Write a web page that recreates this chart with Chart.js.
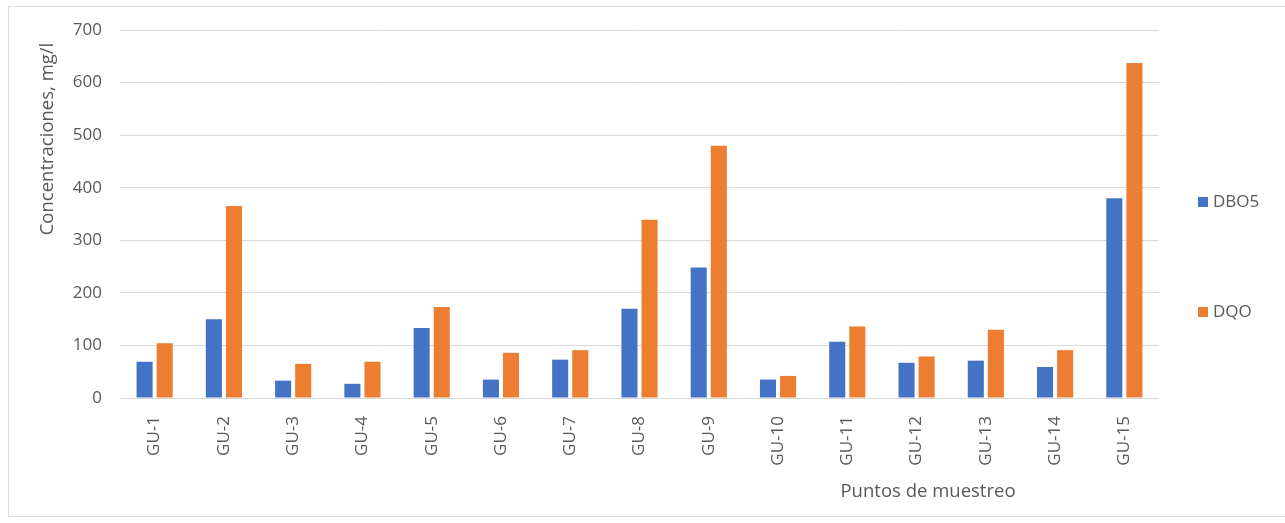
<!DOCTYPE html>
<html>
<head>
<meta charset="utf-8">
<script src="https://cdn.jsdelivr.net/npm/chart.js@4/dist/chart.umd.min.js"></script>
<style>
  html, body { margin:0; padding:0; background:#fff; }
  #frame { position:absolute; left:8px; top:6px; width:1290px; height:511px; border:1px solid #dedede; box-sizing:border-box; }
  #wrap { position:absolute; left:0; top:0; width:1285px; height:523px; }
</style>
</head>
<body>
<div id="frame"></div>
<div id="wrap"><canvas id="chart"></canvas></div>
<script>
const categories = ['GU-1','GU-2','GU-3','GU-4','GU-5','GU-6','GU-7','GU-8','GU-9','GU-10','GU-11','GU-12','GU-13','GU-14','GU-15'];
const dbo5 = [69, 150, 33, 27, 133, 35, 73, 170, 248, 35, 107, 67, 71, 59, 380];
const dqo  = [104, 365, 65, 69, 173, 86, 91, 339, 480, 42, 136, 79, 130, 91, 637];
const yTicks = [0, 100, 200, 300, 400, 500, 600, 700];

const FONT = "'Open Sans', sans-serif";
const TXT = '#595959';

// axis titles + legend placed by hand, like the Excel original
const decor = {
  id:'decor',
  afterDraw(chart){
    const {ctx, chartArea:a} = chart;
    ctx.save();
    ctx.fillStyle = TXT;
    ctx.textBaseline = 'middle';
    ctx.font = `18.5px ${FONT}`;
    // y title
    ctx.save();
    ctx.translate(48, a.top + 109);
    ctx.rotate(-Math.PI/2);
    ctx.textAlign = 'center';
    ctx.fillText('Concentraciones, mg/l', 0, 0);
    ctx.restore();
    // x title
    ctx.textAlign = 'center';
    ctx.fillText('Puntos de muestreo', a.left + 808, 492);
    // legend
    ctx.font = `17px ${FONT}`;
    ctx.textAlign = 'left';
    const ys = [202, 312];
    chart.data.datasets.forEach((ds, i) => {
      ctx.fillStyle = ds.backgroundColor;
      ctx.fillRect(1198, ys[i] - 5, 10, 10);
      ctx.fillStyle = TXT;
      ctx.fillText(ds.label, 1213, ys[i]);
    });
    ctx.restore();
  }
};

new Chart(document.getElementById('chart'), {
  type:'bar',
  data:{
    labels:categories,
    datasets:[
      { label:'DBO5', data:dbo5, backgroundColor:'#4472C4', barPercentage:0.8, categoryPercentage:0.58 },
      { label:'DQO',  data:dqo,  backgroundColor:'#ED7D31', barPercentage:0.8, categoryPercentage:0.58 }
    ]
  },
  options:{
    responsive:true, maintainAspectRatio:false, animation:false,
    layout:{ padding:{ left:0, right:126, top:30, bottom:0 } },
    plugins:{ legend:{display:false}, tooltip:{enabled:false} },
    scales:{
      x:{
        grid:{display:false}, border:{display:false},
        ticks:{ color:TXT, font:{family:FONT, size:17}, minRotation:90, maxRotation:90, padding:10, autoSkip:false },
        afterFit: s => { s.height = 125; }
      },
      y:{
        min:0, max:700,
        afterBuildTicks: s => { s.ticks = yTicks.map(v => ({value:v})); },
        grid:{ color:'#d9d9d9', lineWidth:1, drawTicks:false }, border:{display:false},
        ticks:{ color:TXT, font:{family:FONT, size:17}, padding:18 },
        afterFit: s => { s.width = 120; }
      }
    }
  },
  plugins:[decor]
});
</script>
</body>
</html>
